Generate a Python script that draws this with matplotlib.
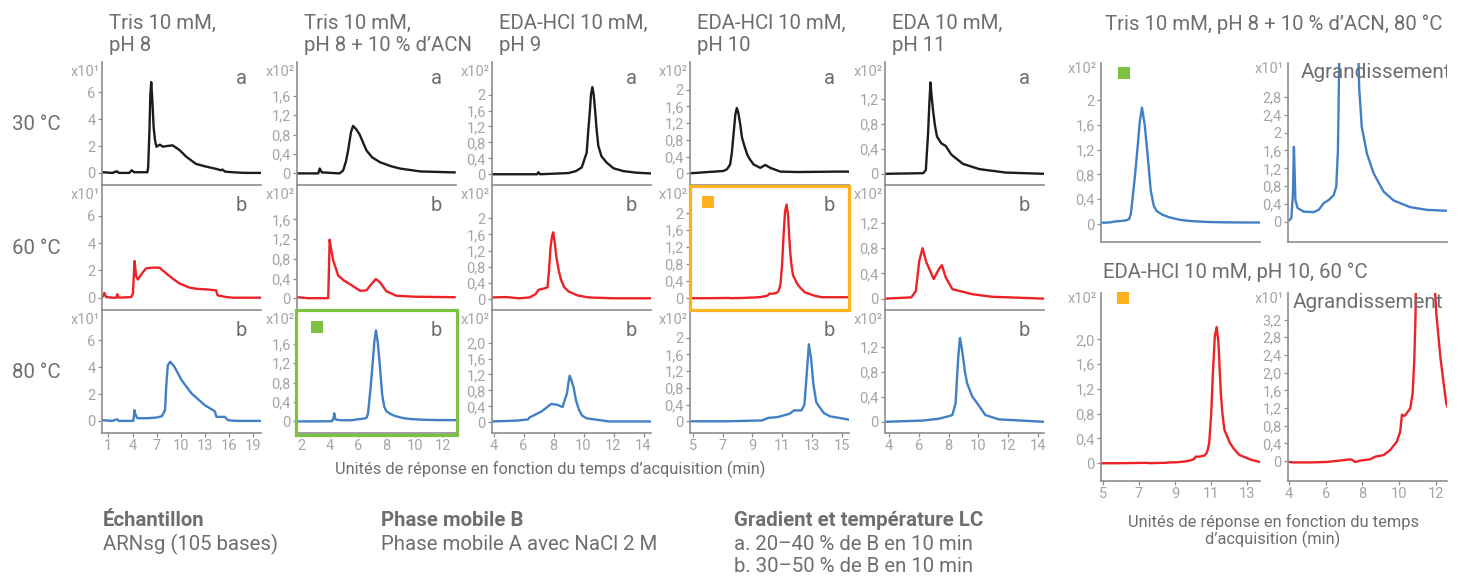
import matplotlib.pyplot as plt
from matplotlib.patches import Rectangle

plt.rcParams['font.family'] = ['Roboto', 'DejaVu Sans']

W, H = 1465, 578

# ---- chromatogram traces (x: min, y: panel units x10^n)
# Tris 10 mM, pH 8 (x10^1)
tris8_30_t = [0.3, 1.5, 2.05, 2.3, 3.6, 3.9, 4.2, 5.85, 5.95, 6.1, 6.22, 6.33, 6.47, 6.63, 6.8, 6.97,
              7.4, 7.8, 8.3, 9.0, 9.85, 10.7, 11.9, 13.15, 14.4, 15.0, 15.2, 15.5, 16.4, 18.0, 19.9]
tris8_30_y = [0.05, 0.0, 0.12, 0.0, 0.0, 0.2, 0.05, 0.05, 0.4, 3.0, 5.8, 6.76, 5.4, 3.4, 2.44, 1.95,
              2.1, 1.95, 2.0, 2.05, 1.7, 1.2, 0.67, 0.47, 0.3, 0.2, 0.25, 0.1, 0.05, 0.0, 0.0]
tris8_60_t = [0.3, 0.5, 0.7, 1.5, 2.0, 2.1, 2.3, 3.85, 4.05, 4.25, 4.45, 4.65, 5.2, 5.7, 6.5, 7.35, 8.2,
              9.0, 9.85, 11.1, 12.0, 13.15, 14.4, 14.5, 14.6, 15.65, 16.5, 19.9]
tris8_60_y = [0.1, 0.35, 0.05, 0.0, 0.0, 0.25, 0.0, 0.05, 0.3, 2.69, 1.6, 1.33, 1.8, 2.15, 2.2, 2.2, 1.78,
              1.4, 1.04, 0.74, 0.65, 0.61, 0.54, 0.35, 0.17, 0.05, 0.0, 0.0]
tris8_80_t = [0.3, 1.5, 2.05, 2.3, 4.1, 4.25, 4.35, 4.6, 5.9, 7.0, 7.65, 8.05, 8.2, 8.4, 8.7, 9.25,
              10.1, 11.35, 13.0, 14.25, 14.45, 15.5, 15.9, 17.0, 19.9]
tris8_80_y = [0.05, 0.0, 0.12, 0.0, 0.0, 0.8, 0.5, 0.2, 0.2, 0.25, 0.35, 0.8, 2.6, 4.15, 4.4, 4.0,
              3.04, 2.04, 1.17, 0.72, 0.3, 0.3, 0.05, 0.0, 0.0]

# Tris 10 mM, pH 8 + 10 % ACN (x10^2)
acn_30_t = [1.7, 3.2, 3.3, 3.45, 4.7, 4.95, 5.15, 5.3, 5.5, 5.65, 5.85, 6.1, 6.6, 7.0, 7.55, 8.3, 8.95,
            10.4, 12.8]
acn_30_y = [0.0, 0.0, 0.1, 0.02, 0.0, 0.06, 0.25, 0.47, 0.85, 0.98, 0.92, 0.81, 0.47, 0.33, 0.23, 0.15,
            0.1, 0.04, 0.02]
acn_60_t = [1.7, 2.5, 3.9, 3.95, 4.0, 4.1, 4.25, 4.6, 5.0, 5.4, 6.15, 6.6, 6.95, 7.26, 7.55, 8.0, 8.7,
            10.0, 12.8]
acn_60_y = [0.02, 0.0, 0.0, 0.6, 1.19, 1.0, 0.77, 0.46, 0.36, 0.29, 0.15, 0.16, 0.29, 0.39, 0.32, 0.14,
            0.05, 0.03, 0.02]
acn_80_t = [1.8, 3.0, 4.0, 4.18, 4.27, 4.32, 4.4, 4.52, 4.85, 5.39, 5.66, 5.93, 6.2, 6.47, 6.61, 6.7,
            6.76, 6.9, 7.03, 7.15, 7.26, 7.4, 7.55, 7.7, 7.85, 7.99, 8.27, 8.63, 9.17, 9.71, 10.61,
            11.51, 12.6, 13.2]
acn_80_y = [0.0, 0.0, 0.002, 0.008, 0.064, 0.168, 0.049, 0.031, 0.023, 0.022, 0.027, 0.042, 0.049,
            0.06, 0.079, 0.16, 0.33, 0.75, 1.2, 1.65, 1.88, 1.6, 1.1, 0.55, 0.3, 0.213, 0.153, 0.109,
            0.068, 0.048, 0.033, 0.027, 0.025, 0.025]

# EDA-HCl 10 mM, pH 9 (x10^2)
eda9_30_t = [3.9, 6.9, 7.0, 7.1, 9.0, 9.5, 9.88, 10.21, 10.32, 10.43, 10.5, 10.59, 10.68, 10.77, 10.88,
             10.99, 11.2, 11.55, 12.0, 12.65, 13.5, 14.5]
eda9_30_y = [0.0, 0.0, 0.05, 0.0, 0.03, 0.08, 0.17, 0.54, 1.1, 1.62, 2.0, 2.19, 2.0, 1.62, 1.1,
             0.71, 0.45, 0.29, 0.15, 0.08, 0.04, 0.02]
eda9_60_t = [3.9, 4.8, 5.7, 6.4, 6.8, 7.0, 7.35, 7.6, 7.7, 7.8, 7.9, 7.98, 8.08, 8.2, 8.35, 8.5, 8.7,
             9.0, 9.6, 10.35, 12.0, 14.5]
eda9_60_y = [0.04, 0.05, 0.02, 0.04, 0.12, 0.23, 0.26, 0.29, 0.7, 1.27, 1.55, 1.65, 1.4, 1.02, 0.7,
             0.48, 0.3, 0.19, 0.09, 0.04, 0.02, 0.02]
eda9_80_t = [3.9, 5.5, 6.3, 6.4, 6.5, 7.2, 7.85, 8.25, 8.6, 8.9, 9.0, 9.08, 9.2, 9.35, 9.5, 9.7, 9.9,
             10.2, 11.7, 14.5]
eda9_80_y = [0.02, 0.04, 0.07, 0.12, 0.14, 0.27, 0.46, 0.44, 0.38, 0.73, 1.0, 1.17, 1.05, 0.86, 0.55,
             0.31, 0.17, 0.1, 0.02, 0.02]

# EDA-HCl 10 mM, pH 10 (x10^2)
eda10_30_t = [4.8, 7.05, 7.3, 7.5, 7.62, 7.73, 7.85, 7.95, 8.05, 8.18, 8.3, 8.5, 8.65, 8.8, 9.08, 9.53,
              9.87, 10.2, 10.88, 12.0, 14.7, 15.5]
eda10_30_y = [0.0, 0.055, 0.1, 0.21, 0.5, 0.93, 1.4, 1.56, 1.45, 1.17, 0.85, 0.61, 0.45, 0.35, 0.21,
              0.13, 0.2, 0.13, 0.04, 0.03, 0.04, 0.04]
eda10_60_t = [3.93, 4.24, 5.15, 6.05, 6.96, 7.33, 7.47, 7.6, 7.87, 8.42, 8.69, 9.15, 9.51, 9.87, 10.05,
              10.15, 10.29, 10.42, 10.6, 10.73, 10.82, 10.89, 11.0, 11.1, 11.2, 11.3, 11.4, 11.47,
              11.54, 11.62, 11.73, 12.02, 12.24, 12.42, 12.56, 12.74, 13.2, 13.66, 14.5, 15.5]
eda10_60_y = [-0.0015, -0.003, -0.003, -0.002, 0.002, 0.004, 0.002, -0.002, 0.001, 0.004, 0.01, 0.0135,
              0.025, 0.044, 0.066, 0.105, 0.102, 0.109, 0.119, 0.153, 0.228, 0.333, 0.8, 1.5, 2.05,
              2.2, 1.95, 1.5, 1.1, 0.8, 0.54, 0.333, 0.235, 0.175, 0.13, 0.11, 0.054, 0.02, 0.02, 0.02]
eda10_80_t = [4.8, 7.3, 9.65, 10.05, 10.7, 11.5, 11.8, 12.3, 12.5, 12.65, 12.8, 12.95, 13.1, 13.3, 13.8,
              14.2, 15.5]
eda10_80_y = [0.0, 0.0, 0.02, 0.08, 0.1, 0.18, 0.26, 0.26, 0.4, 1.1, 1.84, 1.5, 0.9, 0.45, 0.2, 0.12,
              0.04]

# EDA 10 mM, pH 11 (x10^2)
eda11_30_t = [3.73, 6.29, 6.47, 6.62, 6.7, 6.78, 6.86, 6.95, 7.08, 7.22, 7.51, 7.8, 8.18, 8.96, 10.07,
              11.85, 14.4]
eda11_30_y = [0.0, 0.01, 0.06, 0.65, 1.1, 1.47, 1.25, 1.03, 0.78, 0.6, 0.49, 0.45, 0.31, 0.16, 0.075,
              0.02, 0.0]
eda11_60_t = [3.73, 5.5, 5.8, 6.03, 6.25, 6.5, 7.0, 7.35, 7.55, 7.8, 8.25, 9.6, 10.9, 14.4]
eda11_60_y = [0.0, 0.02, 0.12, 0.6, 0.8, 0.58, 0.31, 0.47, 0.53, 0.34, 0.15, 0.07, 0.03, 0.0]
eda11_80_t = [3.73, 6.25, 7.35, 8.0, 8.25, 8.47, 8.56, 8.65, 8.76, 8.86, 8.96, 9.1, 9.24, 9.58, 10.0,
              10.46, 11.35, 14.4]
eda11_80_y = [0.0, 0.02, 0.05, 0.09, 0.11, 0.3, 0.7, 1.05, 1.35, 1.22, 1.05, 0.8, 0.62, 0.41, 0.27,
              0.11, 0.04, 0.0]

buffers = ['Tris 10 mM,\npH 8', 'Tris 10 mM,\npH 8 + 10 % d’ACN', 'EDA-HCl 10 mM,\npH 9',
           'EDA-HCl 10 mM,\npH 10', 'EDA 10 mM,\npH 11']
temps = ['30 °C', '60 °C', '80 °C']
gradient_tag = ['a', 'b', 'b']
scale_tag = ['x10¹', 'x10²', 'x10²', 'x10²', 'x10²']

traces = [
    [(tris8_30_t, tris8_30_y), (tris8_60_t, tris8_60_y), (tris8_80_t, tris8_80_y)],
    [(acn_30_t, acn_30_y), (acn_60_t, acn_60_y), (acn_80_t, acn_80_y)],
    [(eda9_30_t, eda9_30_y), (eda9_60_t, eda9_60_y), (eda9_80_t, eda9_80_y)],
    [(eda10_30_t, eda10_30_y), (eda10_60_t, eda10_60_y), (eda10_80_t, eda10_80_y)],
    [(eda11_30_t, eda11_30_y), (eda11_60_t, eda11_60_y), (eda11_80_t, eda11_80_y)],
]

xticks = [[1, 4, 7, 10, 13, 16, 19], [2, 4, 6, 8, 10, 12], [4, 6, 8, 10, 12, 14],
          [5, 7, 9, 11, 13, 15], [4, 6, 8, 10, 12, 14]]
yticks = [[0, 2, 4, 6], [0, 0.4, 0.8, 1.2, 1.6], [0, 0.4, 0.8, 1.2, 1.6, 2.0],
          [0, 0.4, 0.8, 1.2, 1.6, 2.0], [0, 0.4, 0.8, 1.2]]
ytick_labels = [['0', '2', '4', '6'], ['0', '0,4', '0,8', '1,2', '1,6'],
                ['0', '0,4', '0,8', '1,2', '1,6', '2'], ['0', '0,4', '0,8', '1,2', '1,6', '2'],
                ['0', '0,4', '0,8', '1,2']]

# ---- style
BLACK, RED, BLUE = '#1c1c1e', '#ec2227', '#4280c6'
row_colors = [BLACK, RED, BLUE]
GREEN, ORANGE = '#7dc143', '#fbb21e'
SPINE = '#8d8e91'
TICK = '#a3a5a8'
TXT = '#6d6e71'

fig = plt.figure(figsize=(W / 100, H / 100), dpi=100)


def px_axes(left, top, w, h):
    return fig.add_axes([left / W, 1 - (top + h) / H, w / W, h / H])


def ftext(x, y, s, **kw):
    return fig.text(x / W, 1 - y / H, s, **kw)


def style(ax):
    ax.set_facecolor('none')
    for s in ['top', 'right']:
        ax.spines[s].set_visible(False)
    for s in ['left', 'bottom']:
        ax.spines[s].set_color(SPINE)
        ax.spines[s].set_linewidth(1.2)
    ax.tick_params(colors=SPINE, labelcolor=TICK, labelsize=10.5, length=3, width=0.9, pad=1.5)


col_left = [102, 297, 492, 690, 885]
row_top = [62, 185, 310]
row_h = [123, 125, 123]
PW = 159
xlims = [(0.2, 20.0), (1.7, 12.9), (3.9, 14.5), (4.8, 15.5), (3.73, 14.4)]
ylims = [(-0.9, 8.25), (-0.24, 2.3), (-0.27, 2.82), (-0.28, 2.66), (-0.18, 1.8)]

for c in range(5):
    ftext(col_left[c] + 7, 14, buffers[c], fontsize=14.7, color=TXT, va='top', ha='left', linespacing=1.22)
    for r in range(3):
        ax = px_axes(col_left[c], row_top[r], PW, row_h[r])
        style(ax)
        t, y = traces[c][r]
        ax.plot(t, y, color=row_colors[r], lw=1.7, solid_joinstyle='round')
        ax.set_xlim(*xlims[c])
        ax.set_ylim(*ylims[c])
        ax.set_yticks(yticks[c])
        labels = list(ytick_labels[c])
        if c == 2 and r == 2:
            labels[-1] = '2,0'
        ax.set_yticklabels(labels)
        if r == 2:
            ax.set_xticks(xticks[c])
        else:
            ax.set_xticks([])
        ftext(col_left[c] - 2, row_top[r] + 10, scale_tag[c], fontsize=10.5, color=TICK, ha='right',
              va='center')
        ftext(col_left[c] + PW - 20, row_top[r] + (22 if r == 0 else 26), gradient_tag[r], fontsize=14.5,
              color=TXT, ha='center', va='baseline')

for r in range(3):
    ftext(12, [125, 248, 373][r], temps[r], fontsize=14.7, color=TXT, ha='left', va='center')

# highlight boxes and markers
fig.add_artist(Rectangle((296 / W, 1 - 435 / H), 161 / W, 125 / H, fill=False, ec=GREEN, lw=2.3,
                         transform=fig.transFigure))
fig.add_artist(Rectangle((690 / W, 1 - 310 / H), 159 / W, 124 / H, fill=False, ec=ORANGE, lw=2.3,
                         transform=fig.transFigure))


def square(x, y, color):
    fig.add_artist(Rectangle((x / W, 1 - (y + 12) / H), 12 / W, 12 / H, fc=color, ec='none',
                             transform=fig.transFigure))


square(311, 321, GREEN)
square(702, 196, ORANGE)
square(1118, 67, GREEN)
square(1117, 292, ORANGE)

ftext(550, 469, 'Unités de réponse en fonction du temps d’acquisition (min)', fontsize=11.8,
      color=TXT, ha='center', va='center')

# ---- right-hand enlargements
ftext(1105, 30, 'Tris 10 mM, pH 8 + 10 % d’ACN, 80 °C', fontsize=14.7, color=TXT, va='baseline')
ftext(1103, 278, 'EDA-HCl 10 mM, pH 10, 60 °C', fontsize=14.7, color=TXT, va='baseline')

acn_80_y10 = [v * 10 for v in acn_80_y]
eda10_60_y10 = [v * 10 for v in eda10_60_y]

right = [
    # left, top, h, t, y, color, xlim, ylim, yticks, labels, xticks, tag, title offset
    (1101, 63, 179, acn_80_t, acn_80_y, BLUE, (5.2, 13.2), (-0.29, 2.6),
     [0, 0.4, 0.8, 1.2, 1.6, 2.0], ['0', '0,4', '0,8', '1,2', '1,6', '2'], [], 'x10²', None),
    (1288, 63, 179, acn_80_t, acn_80_y10, BLUE, (4.0, 12.6), (-0.45, 3.56),
     [0, 0.4, 0.8, 1.2, 1.6, 2.0, 2.4, 2.8], ['0', '0,4', '0,8', '1,2', '1,6', '2', '2,4', '2,8'], [],
     'x10¹', 13),
    (1101, 293, 188, eda10_60_t, eda10_60_y, RED, (4.9, 13.7), (-0.29, 2.75),
     [0, 0.4, 0.8, 1.2, 1.6, 2.0], ['0', '0,4', '0,8', '1,2', '1,6', '2,0'], [5, 7, 9, 11, 13], 'x10²',
     None),
    (1288, 293, 188, eda10_60_t, eda10_60_y10, RED, (3.95, 12.6), (-0.45, 3.8),
     [0, 0.4, 0.8, 1.2, 1.6, 2.0, 2.4, 2.8, 3.2],
     ['0', '0,4', '0,8', '1,2', '1,6', '2,0', '2,4', '2,8', '3,2'], [4, 6, 8, 10, 12], 'x10¹', 5),
]
for l, tp, h, t, y, col, xl, yl, yt, ytl, xt, tag, toff in right:
    ax = px_axes(l, tp, PW, h)
    style(ax)
    ax.plot(t, y, color=col, lw=1.7, solid_joinstyle='round')
    ax.set_xlim(*xl)
    ax.set_ylim(*yl)
    ax.set_yticks(yt)
    ax.set_yticklabels(ytl)
    ax.set_xticks(xt)
    ftext(l - 4, tp + 6, tag, fontsize=10.5, color=TICK, ha='right', va='center')
    if toff is not None:
        ax.text(toff / PW, 1.0, 'Agrandissement', transform=ax.transAxes, fontsize=14.9, color=TXT,
                ha='left', va='top', clip_on=True)

ftext(1273, 531, 'Unités de réponse en fonction du temps\nd’acquisition (min)', fontsize=11.8,
      color=TXT, ha='center', va='center', linespacing=1.1)

# ---- footnotes
notes = [
    (103, 'Échantillon', ['ARNsg (105 bases)']),
    (381, 'Phase mobile B', ['Phase mobile A avec NaCl 2 M']),
    (734, 'Gradient et température LC', ['a. 20–40 % de B en 10 min', 'b. 30–50 % de B en 10 min']),
]
for x, head, lines in notes:
    ftext(x, 521, head, fontsize=14.7, color=TXT, fontweight='bold', va='center')
    for k, s in enumerate(lines):
        ftext(x, 544 + 22.5 * k, s, fontsize=14.7, color=TXT, va='center')

fig.savefig('out.png', dpi=100)
